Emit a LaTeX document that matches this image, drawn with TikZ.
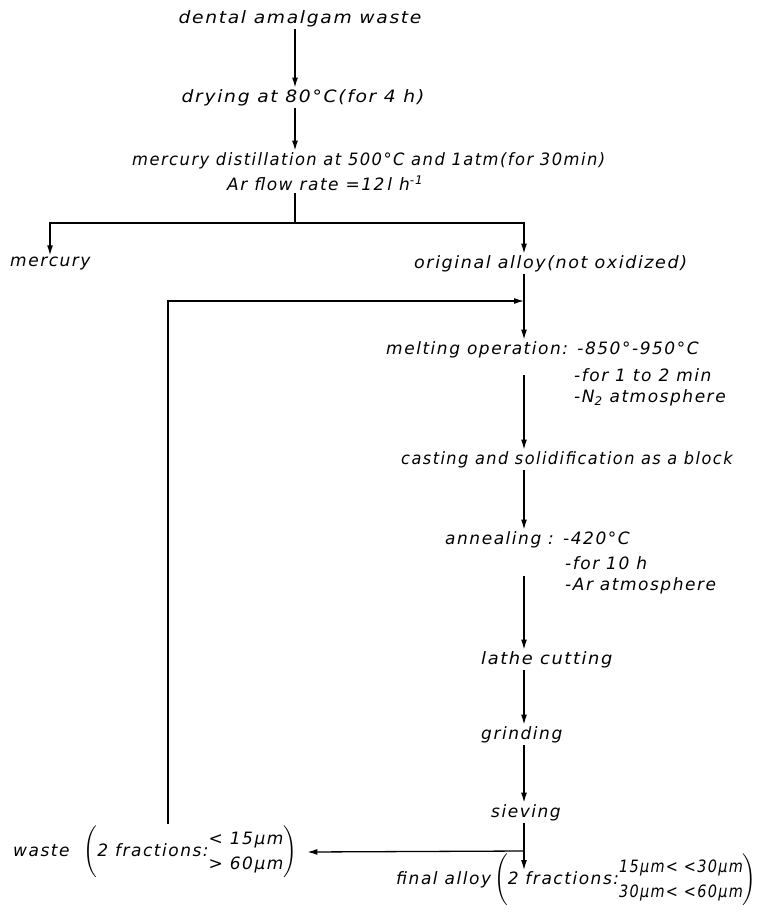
\documentclass[tikz,border=0pt]{standalone}
\usepackage{amsmath}
\usepackage{graphicx}
\usepackage{fontspec}
\setmainfont{DejaVu Sans}[LetterSpace=9]
\usetikzlibrary{arrows.meta,calc}
\newcommand{\hs}[2]{\scalebox{#1}[1]{#2}}
\tikzset{
  txt/.style={font=\fontsize{17}{20}\selectfont\itshape, inner sep=2pt, anchor=west},
  ctxt/.style={font=\fontsize{17}{20}\selectfont\itshape, inner sep=2pt},
  flow/.style={line width=1.3pt},
  arr/.style={flow, -{Latex[length=10pt,width=6pt]}}
}
\begin{document}
\begin{tikzpicture}[x=1pt,y=-1pt]
\useasboundingbox (0,0) rectangle (762,915);
\renewcommand{\arraystretch}{1.25}
% columns
\coordinate (c1) at (295,0);
\coordinate (cL) at (50,0);
\coordinate (cR) at (524,0);
\coordinate (fb) at (168,0);
% nodes
\node[ctxt] (dental) at (300,19) {\hs{1.1}{dental amalgam waste}};
\node[ctxt] (drying) at (303,98) {\hs{1.1}{drying at 80°C(for 4 h)}};
\node[txt] (distill) at (130,161) {\hs{0.96}{mercury distillation at 500°C and 1atm(for 30min)}};
\node[txt] (arflow) at (225,183) {Ar flow rate =12\,l h\textsuperscript{-1}};
\node[txt] (mercury) at (8,264) {mercury};
\node[txt] (orig) at (412,264) {\hs{1.03}{original alloy(not oxidized)}};
\node[txt] (melt1) at (384,350) {melting operation: -850°-950°C};
\node[txt] (melt2) at (572,375) {-for 1 to 2 min};
\node[txt] (melt3) at (572,398) {-N\textsubscript{2} atmosphere};
\node[txt] (casting) at (399,460) {\hs{0.95}{casting and solidification as a block}};
\node[txt] (ann1) at (443,540) {annealing : -420°C};
\node[txt] (ann2) at (563,563) {-for 10 h};
\node[txt] (ann3) at (563,586) {-Ar atmosphere};
\node[txt] (lathe) at (479,660) {\hs{1.05}{lathe cutting}};
\node[txt] (grind) at (479,735) {grinding};
\node[txt] (sieve) at (489,813) {sieving};
\node[txt] (waste) at (11,852) {waste\hspace{14pt}$\left(\text{2 fractions:}\begin{tabular}{@{}l@{}}< 15µm\\> 60µm\end{tabular}\right)$};
\node[txt] (final) at (394,880) {final alloy\hspace{3pt}$\left(\text{2 fractions:}\hs{0.85}{\begin{tabular}{@{}l@{}}15µm< <30µm\\30µm< <60µm\end{tabular}}\right)$};
% junctions
\coordinate (br) at (295,223);
\coordinate (join) at (524,301);
\coordinate (sj) at (524,851);
\coordinate (ftip) at (524,870);
% connectors
\draw[arr] (dental.south -| c1) -- (drying.north -| c1);
\draw[arr] (drying.south -| c1) -- (distill.north -| c1);
\draw[flow] (arflow.south -| br) -- (br);
\draw[arr] (br) -| (mercury.north -| cL);
\draw[arr] (br) -| (orig.north -| cR);
\draw[arr] (orig.south -| cR) -- (melt1.north -| cR);
\draw[arr] (waste.north -| fb) |- (join);
\draw[arr] (melt2 -| cR) -- (casting.north -| cR);
\draw[arr] (casting.south -| cR) -- (ann1.north -| cR);
\draw[arr] (ann3.north -| cR) -- (lathe.north -| cR);
\draw[arr] (lathe.south -| cR) -- (grind.north -| cR);
\draw[arr] (grind.south -| cR) -- (sieve.north -| cR);
\draw[arr] (sieve.south -| cR) -- (ftip);
\draw[arr] (sj) -- ([xshift=8pt]waste.east);
\end{tikzpicture}
\end{document}
